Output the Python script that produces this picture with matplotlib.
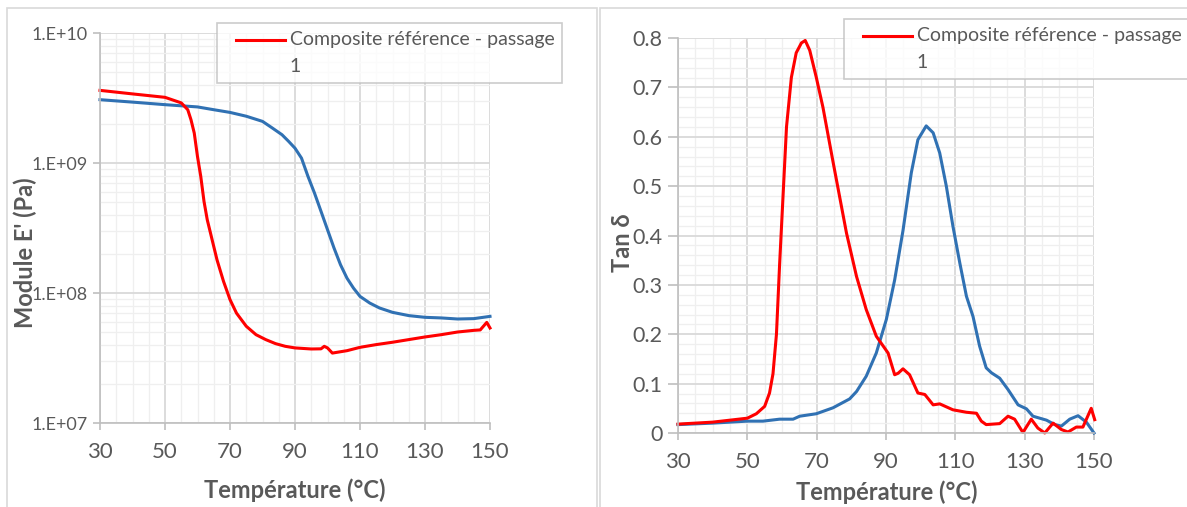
import numpy as np
import matplotlib.pyplot as plt
from matplotlib.lines import Line2D
from matplotlib.patches import Rectangle
from matplotlib.legend_handler import HandlerLine2D
from matplotlib.ticker import MultipleLocator, LogLocator, FixedLocator, NullFormatter

plt.rcParams['font.family'] = ['Lato', 'DejaVu Sans']

# E' (Pa) - composite reference, pass 1 (red) and second curve (blue)
t_red_e = [30, 40, 50, 55, 57, 58, 59, 60, 61, 62, 63, 64, 65, 66, 68, 70, 72, 75, 78, 81,
           84, 87, 90, 95, 98, 99, 100, 101.5, 103, 106, 110, 115, 120, 125, 130, 135,
           140, 145, 147, 149, 150]
e_red = [3.62e9, 3.40e9, 3.20e9, 2.90e9, 2.57e9, 2.15e9, 1.70e9, 1.12e9, 7.9e8, 5.07e8,
         3.66e8, 2.89e8, 2.28e8, 1.80e8, 1.23e8, 8.9e7, 7.0e7, 5.55e7, 4.78e7, 4.38e7,
         4.08e7, 3.89e7, 3.78e7, 3.71e7, 3.72e7, 3.89e7, 3.78e7, 3.45e7, 3.50e7, 3.60e7,
         3.82e7, 4.01e7, 4.18e7, 4.38e7, 4.59e7, 4.78e7, 5.01e7, 5.16e7, 5.20e7, 5.94e7,
         5.38e7]
t_blue_e = [30, 40, 50, 60, 65, 70, 75, 80, 83, 86, 88, 90, 92, 94, 96, 98, 100, 102, 104,
            106, 108, 110, 113, 116, 120, 125, 130, 135, 140, 145, 150]
e_blue = [3.07e9, 2.94e9, 2.81e9, 2.70e9, 2.57e9, 2.45e9, 2.29e9, 2.09e9, 1.86e9, 1.65e9,
          1.47e9, 1.30e9, 1.09e9, 7.88e8, 5.87e8, 4.25e8, 3.07e8, 2.22e8, 1.65e8, 1.30e8,
          1.09e8, 9.42e7, 8.37e7, 7.67e7, 7.10e7, 6.70e7, 6.50e7, 6.43e7, 6.31e7, 6.35e7,
          6.61e7]

# tan delta
t_red_d = [30, 40, 45, 50, 52.6, 55, 56.4, 57.4, 58.4, 59.3, 60.3, 61.3, 62.7, 64.1, 65.6,
           66.7, 68, 69.9, 71.8, 74.7, 78.6, 81.5, 84.3, 87.2, 89.6, 90.6, 92.5, 93.5, 94.9,
           96.8, 99.2, 101.2, 103.6, 105.5, 109.3, 113.2, 116.1, 117.5, 118.9, 122.8, 125.2,
           127.1, 129.5, 131.9, 133.8, 135.8, 138.2, 140.6, 142.5, 144.9, 146.8, 149.2, 150.2]
d_red = [0.018, 0.022, 0.026, 0.030, 0.039, 0.054, 0.081, 0.12, 0.20, 0.34, 0.48, 0.62,
         0.72, 0.77, 0.79, 0.795, 0.775, 0.72, 0.66, 0.55, 0.405, 0.317, 0.25, 0.196, 0.172,
         0.162, 0.118, 0.121, 0.13, 0.118, 0.081, 0.078, 0.057, 0.059, 0.047, 0.042, 0.040,
         0.024, 0.017, 0.019, 0.034, 0.028, 0.001, 0.028, 0.010, 0.0, 0.02, 0.007, 0.002,
         0.012, 0.012, 0.05, 0.027]
t_blue_d = [30, 40, 50, 54.5, 59.3, 63.2, 65.1, 69.9, 74.7, 79.5, 81.5, 84.3, 87.2, 90.1,
            92.5, 94.9, 97.3, 99.2, 101.6, 103.6, 105.5, 107.4, 109.3, 111.3, 113.2, 115.1,
            117, 118.9, 120.4, 122.8, 125.2, 128.1, 130.5, 132.4, 136.3, 138.7, 140.6, 143,
            145.4, 147.8, 150]
d_blue = [0.017, 0.020, 0.024, 0.024, 0.028, 0.028, 0.034, 0.039, 0.051, 0.069, 0.084,
          0.115, 0.162, 0.23, 0.31, 0.41, 0.527, 0.594, 0.622, 0.608, 0.567, 0.50, 0.419,
          0.344, 0.277, 0.236, 0.176, 0.132, 0.122, 0.111, 0.088, 0.057, 0.049, 0.034,
          0.026, 0.017, 0.014, 0.028, 0.035, 0.022, 0.0]

legend_label = 'Composite référence - passage\n1'
x_ticks = [30, 50, 70, 90, 110, 130, 150]

RED = '#ff0000'
BLUE = '#3071b3'
TXT = '#595959'
GRID = '#d9d9d9'
GRID_MIN = '#efefef'


class PaddedLine(HandlerLine2D):
    # Excel style: small gap on the left, line level with the first text row
    def get_xdata(self, legend, xdescent, ydescent, width, height, fontsize):
        xdata = np.array([-xdescent + 8, -xdescent + width])
        return xdata, np.array([-xdescent + 0.5 * width])

    def create_artists(self, legend, orig_handle, xdescent, ydescent, width, height,
                       fontsize, trans):
        arts = super().create_artists(legend, orig_handle, xdescent, ydescent, width,
                                      height, fontsize, trans)
        for a in arts:
            a.set_ydata(np.asarray(a.get_ydata()) + 9.5)
        return arts


fig = plt.figure(figsize=(11.87, 5.07), dpi=100)

# panel borders
fig.patches.append(Rectangle((7 / 1187, -0.01), 590 / 1187, 1 - 8 / 507 + 0.01,
                             transform=fig.transFigure, fill=False, ec='#d9d9d9', lw=1.2))
fig.patches.append(Rectangle((600 / 1187, -0.01), 600 / 1187, 1 - 8 / 507 + 0.01,
                             transform=fig.transFigure, fill=False, ec='#d9d9d9', lw=1.2))


def style(ax):
    for s in ['top', 'right']:
        ax.spines[s].set_visible(False)
    for s in ['left', 'bottom']:
        ax.spines[s].set_color('#bfbfbf')
        ax.spines[s].set_linewidth(1.2)
    ax.grid(True, which='major', color=GRID, lw=1.3)
    ax.grid(True, which='minor', color=GRID_MIN, lw=0.9)
    ax.set_axisbelow(True)
    ax.tick_params(which='major', colors='#bfbfbf', labelcolor=TXT, length=5, width=1.2)
    ax.tick_params(which='minor', length=0)
    ax.set_xlim(30, 150)
    ax.xaxis.set_major_locator(FixedLocator(x_ticks))
    ax.xaxis.set_minor_locator(MultipleLocator(5))
    ax.tick_params(axis='x', labelsize=16, pad=9)


# left: storage modulus
ax1 = fig.add_axes([100 / 1187, 84 / 507, 390 / 1187, 390 / 507])
style(ax1)
ax1.set_yscale('log')
ax1.set_ylim(1e7, 1e10)
ax1.yaxis.set_minor_locator(LogLocator(base=10, subs=range(2, 10), numticks=10))
ax1.yaxis.set_minor_formatter(NullFormatter())
ax1.set_yticks([1e7, 1e8, 1e9, 1e10])
ax1.set_yticklabels(['1.E+07', '1.E+08', '1.E+09', '1.E+10'])
ax1.tick_params(axis='y', labelsize=13, pad=4)
ax1.plot(t_blue_e, e_blue, color=BLUE, lw=2.2, clip_on=False)
ax1.plot(t_red_e, e_red, color=RED, lw=2.2, clip_on=False)

# right: tan delta
ax2 = fig.add_axes([678 / 1187, 74 / 507, 416 / 1187, 395 / 507])
style(ax2)
ax2.set_ylim(0, 0.8)
ax2.yaxis.set_minor_locator(MultipleLocator(0.02))
ax2.set_yticks([0, 0.1, 0.2, 0.3, 0.4, 0.5, 0.6, 0.7, 0.8])
ax2.set_yticklabels(['0', '0.1', '0.2', '0.3', '0.4', '0.5', '0.6', '0.7', '0.8'])
ax2.tick_params(axis='y', labelsize=15.5, pad=4, length=7)
ax2.plot(t_blue_d, d_blue, color=BLUE, lw=2.2, clip_on=False)
ax2.plot(t_red_d, d_red, color=RED, lw=2.2, clip_on=False)

# axis labels
fig.text(295 / 1187, 1 - 490 / 507, 'Température (°C)', ha='center', va='center',
         fontsize=17, fontweight='bold', color=TXT)
fig.text(887 / 1187, 1 - 492 / 507, 'Température (°C)', ha='center', va='center',
         fontsize=17, fontweight='bold', color=TXT)
fig.text(25 / 1187, 1 - 253 / 507, "Module E' (Pa)", ha='center', va='center',
         rotation=90, fontsize=17, fontweight='bold', color=TXT)
fig.text(622 / 1187, 1 - 243 / 507, 'Tan δ', ha='center', va='center',
         rotation=90, fontsize=17, fontweight='bold', color=TXT)

# legends (only the red curve listed)
handle = Line2D([0], [0], color=RED, lw=2.2)
for x0, y0 in [(217 / 1187, 1 - 23 / 507), (844 / 1187, 1 - 19 / 507)]:
    leg = fig.legend([handle], [legend_label], loc='upper left', bbox_to_anchor=(x0, y0),
                     fontsize=14, frameon=True, fancybox=False, handlelength=3.1,
                     borderpad=0.4, handletextpad=0.25, borderaxespad=0,
                     handler_map={Line2D: PaddedLine()})
    leg.get_frame().set_edgecolor('#bfbfbf')
    leg.get_frame().set_linewidth(1.2)
    for txt in leg.get_texts():
        txt.set_color(TXT)
        txt.set_linespacing(1.75)

fig.savefig('out.png', dpi=100)
